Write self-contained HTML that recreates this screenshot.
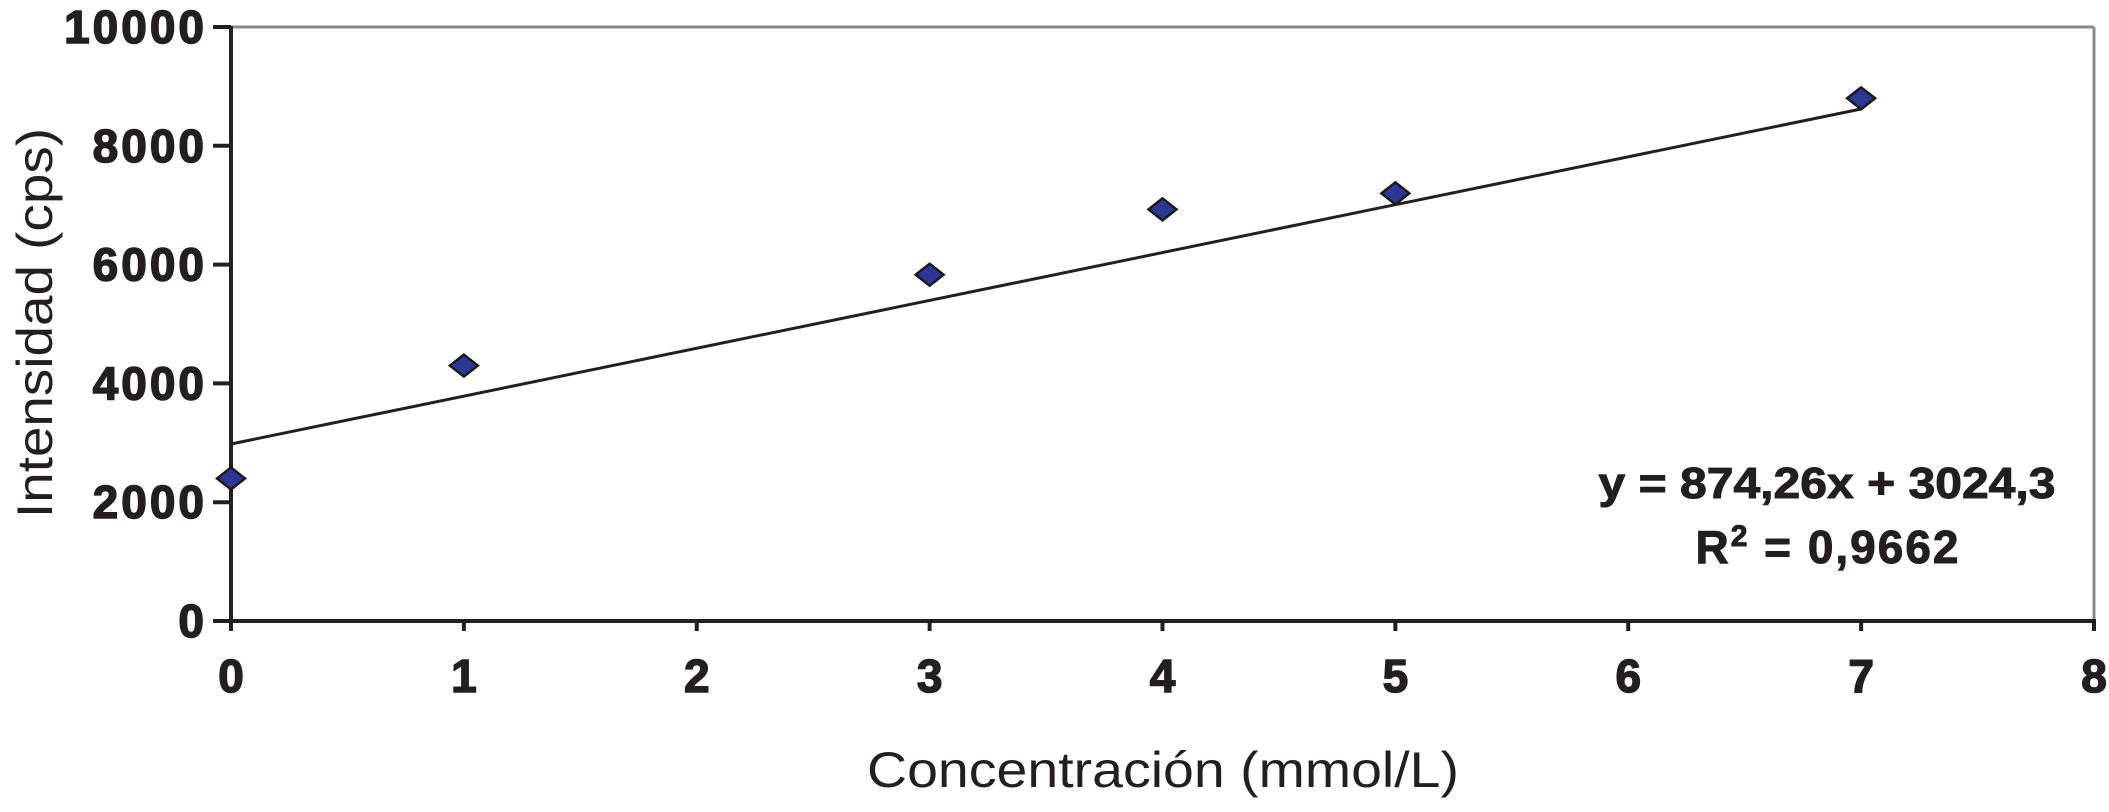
<!DOCTYPE html>
<html><head><meta charset="utf-8"><style>
html,body{margin:0;padding:0;background:#fff;}
svg{display:block;font-family:"Liberation Sans",Arial,sans-serif;}
</style></head><body>
<svg id="chart" width="2109" height="812" viewBox="0 0 2109 812">
<rect x="0" y="0" width="2109" height="812" fill="#fff"/>
<g id="plot"></g>
</svg>
<script>
const xValues = [0, 1, 3, 4, 5, 7];
const yValues = [2400, 4300, 5830, 6930, 7200, 8800];
const xTicks = [0, 1, 2, 3, 4, 5, 6, 7, 8];
const yTicks = [0, 2000, 4000, 6000, 8000, 10000];
const trendX = [0, 7];
const trendY = [2980, 8620];

const L = 231, R = 2094, T = 27, B = 621;
const xs = v => L + (v - 0) / 8 * (R - L);
const ys = v => B - v / 10000 * (B - T);
const NS = 'http://www.w3.org/2000/svg';
const g = document.getElementById('plot');
function mk(tag, attrs){ const e = document.createElementNS(NS, tag); for (const k in attrs) e.setAttribute(k, attrs[k]); g.appendChild(e); return e; }

let e;
e = mk('line', {x1:L, y1:T, x2:R, y2:T, stroke:'#8a8a8a', 'stroke-width':3});


e = mk('line', {x1:R, y1:T, x2:R, y2:B, stroke:'#8a8a8a', 'stroke-width':3});


e = mk('line', {x1:L, y1:T-1, x2:L, y2:B+10, stroke:'#231f20', 'stroke-width':4});


e = mk('line', {x1:L-18, y1:B, x2:R+2, y2:B, stroke:'#231f20', 'stroke-width':4});



yTicks.forEach(v => {
  const y = ys(v);
  const t = mk('line', {x1:L-18, y1:y, x2:L, y2:y, stroke:'#231f20', 'stroke-width':4});
  
  
  const lb = mk('text', {x:207, y:y+16, 'text-anchor':'end', 'font-size':46, 'font-weight':'bold', fill:'#231f20', stroke:'#231f20', 'stroke-width':1.5, 'letter-spacing':3});
  lb.textContent = String(v);
  
  
});
xTicks.forEach(v => {
  const x = xs(v);
  const t = mk('line', {x1:x, y1:B, x2:x, y2:B+10, stroke:'#231f20', 'stroke-width':4});
  
  
  const lb = mk('text', {x:x, y:692, 'text-anchor':'middle', 'font-size':46, 'font-weight':'bold', fill:'#231f20', stroke:'#231f20', 'stroke-width':1.5});
  lb.textContent = String(v);
  
  
});

e = mk('line', {x1:xs(trendX[0]), y1:ys(trendY[0]), x2:xs(trendX[1]), y2:ys(trendY[1]), stroke:'#231f20', 'stroke-width':3});



xValues.forEach((xv, i) => {
  const cx = xs(xv), cy = ys(yValues[i]);
  const p = mk('polygon', {points:`${cx-14},${cy} ${cx},${cy-11} ${cx+14},${cy} ${cx},${cy+11}`, fill:'#2b3896', stroke:'#1a1a1a', 'stroke-width':2.5});
  
  
});

e = mk('text', {x:1827, y:498, 'text-anchor':'middle', 'font-size':44, 'font-weight':'bold', fill:'#231f20', stroke:'#231f20', 'stroke-width':1, textLength:457, lengthAdjust:'spacingAndGlyphs'});
e.textContent = 'y = 874,26x + 3024,3';


e = mk('text', {x:1828, y:563, 'text-anchor':'middle', 'font-size':46, 'font-weight':'bold', fill:'#231f20', stroke:'#231f20', 'stroke-width':1, 'letter-spacing':2});
e.innerHTML = 'R<tspan dy="-17" font-size="30">2</tspan><tspan dy="17"> = 0,9662</tspan>';



e = mk('text', {x:0, y:0, 'text-anchor':'middle', 'font-size':50, fill:'#231f20', transform:'translate(52,323) rotate(-90)', textLength:390, lengthAdjust:'spacingAndGlyphs'});
e.textContent = 'Intensidad (cps)';


e = mk('text', {x:1163, y:787, 'text-anchor':'middle', 'font-size':50, fill:'#231f20', textLength:592, lengthAdjust:'spacingAndGlyphs'});
e.textContent = 'Concentración (mmol/L)';


</script>
</body></html>
